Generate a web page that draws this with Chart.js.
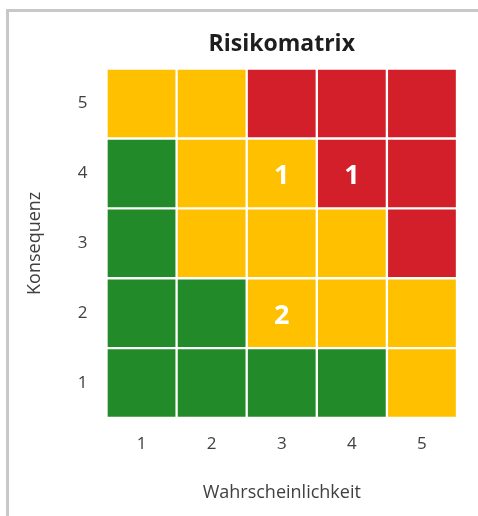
<!DOCTYPE html>
<html>
<head>
<meta charset="utf-8">
<script src="https://cdn.jsdelivr.net/npm/chart.js@4/dist/chart.umd.min.js"></script>
<style>
    html, body { margin: 0; padding: 0; background: #fff; overflow: hidden; }
    #frame {
        position: absolute; left: 6px; top: 9px;
        width: 600px; height: 600px;
        border: 3px solid #c8c8c8;
    }
    #wrap { position: absolute; left: 0; top: 0; width: 478px; height: 516px; }
</style>
</head>
<body>
<div id="frame"></div>
<div id="wrap"><canvas id="riskMatrix"></canvas></div>
<script>
// Wahrscheinlichkeit (x) und Konsequenz (y), jeweils 1..5
const likelihood = ["1", "2", "3", "4", "5"];
const consequence = [1, 2, 3, 4, 5];

// Zonen je Zeile, von Konsequenz 1 (unten) bis 5 (oben)
const zones = [
    ["G", "G", "G", "G", "Y"],
    ["G", "G", "Y", "Y", "Y"],
    ["G", "Y", "Y", "Y", "R"],
    ["G", "Y", "Y", "R", "R"],
    ["Y", "Y", "R", "R", "R"]
];

// Anzahl Risiken je Feld
const counts = [
    [0, 0, 0, 0, 0],
    [0, 0, 2, 0, 0],
    [0, 0, 0, 0, 0],
    [0, 0, 1, 1, 0],
    [0, 0, 0, 0, 0]
];

const zoneColor = { G: "#238A29", Y: "#FFC000", R: "#D21F29" };
const textColor = "#404040";
const fontFamily = "'Open Sans', 'Noto Sans', sans-serif";

const datasets = consequence.map((c, r) => ({
    label: "Konsequenz " + c,
    data: likelihood.map(() => [c - 1, c]),
    backgroundColor: zones[r].map(z => zoneColor[z]),
    borderColor: "#ffffff",
    borderWidth: 1.5,
    borderSkipped: false,
    grouped: false,
    barPercentage: 1,
    categoryPercentage: 1,
    counts: counts[r]
}));

// Zahlen in die Felder schreiben
const cellLabels = {
    id: "cellLabels",
    afterDatasetsDraw(chart) {
        const ctx = chart.ctx;
        ctx.save();
        ctx.fillStyle = "#ffffff";
        ctx.font = "bold 27px " + fontFamily;
        ctx.textAlign = "center";
        ctx.textBaseline = "middle";
        chart.data.datasets.forEach((ds, i) => {
            chart.getDatasetMeta(i).data.forEach((bar, j) => {
                const n = ds.counts[j];
                if (!n) return;
                const p = bar.getProps(["x", "y", "base"], true);
                ctx.fillText(n, p.x, (p.y + p.base) / 2 + 3);
            });
        });
        ctx.restore();
    }
};

new Chart(document.getElementById("riskMatrix"), {
    type: "bar",
    data: { labels: likelihood, datasets: datasets },
    plugins: [cellLabels],
    options: {
        responsive: true,
        maintainAspectRatio: false,
        animation: false,
        layout: { padding: { left: 0, right: 21, top: 0, bottom: 0 } },
        plugins: {
            legend: { display: false },
            tooltip: { enabled: false },
            title: {
                display: true,
                text: "Risikomatrix",
                color: "#1e1e1e",
                fullSize: false,
                font: { family: fontFamily, size: 23, weight: "bold" },
                padding: { top: 31, bottom: 10 }
            }
        },
        scales: {
            x: {
                grid: { display: false, drawTicks: false },
                border: { display: false },
                ticks: { color: textColor, padding: 16, font: { family: fontFamily, size: 17 } },
                title: {
                    display: true,
                    text: "Wahrscheinlichkeit",
                    color: textColor,
                    font: { family: fontFamily, size: 18 },
                    padding: { top: 20, bottom: 12 }
                },
                afterFit(s) { s.height = 98; }
            },
            y: {
                min: 0,
                max: 5,
                grid: { display: false, drawTicks: false },
                border: { display: false },
                afterBuildTicks(s) { s.ticks = consequence.map(c => ({ value: c - 0.5 })); },
                ticks: {
                    color: textColor,
                    padding: 19,
                    font: { family: fontFamily, size: 17 },
                    callback: v => v + 0.5
                },
                title: {
                    display: true,
                    text: "Konsequenz",
                    color: textColor,
                    font: { family: fontFamily, size: 18 },
                    padding: { top: 24, bottom: 0 }
                },
                afterFit(s) { s.width = 106.5; }
            }
        }
    }
});
</script>
</body>
</html>
